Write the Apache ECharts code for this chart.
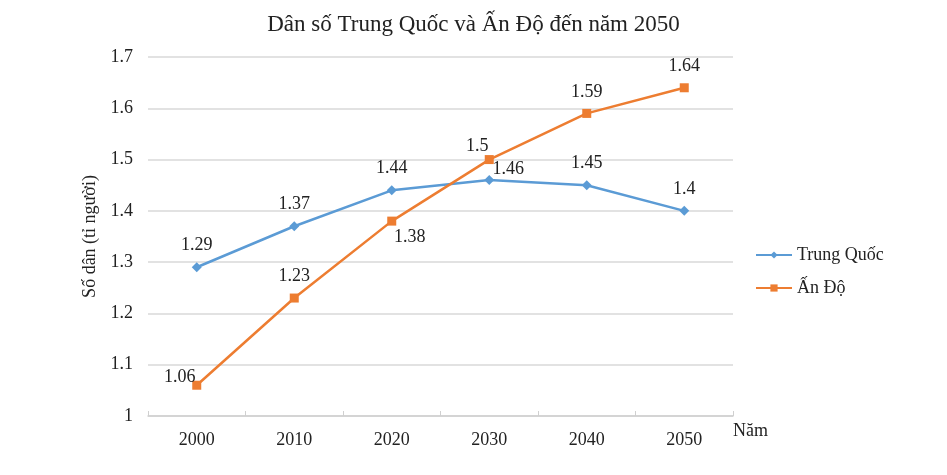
<!DOCTYPE html>
<html><head><meta charset="utf-8">
<script src="https://cdn.jsdelivr.net/npm/echarts@6/dist/echarts.min.js"></script>
<style>html,body{margin:0;padding:0;background:#fff}#c{width:947px;height:475px}</style>
</head><body><div id="c"></div>
<script>
var years = ['2000','2010','2020','2030','2040','2050'];
var trungQuoc = [1.29, 1.37, 1.44, 1.46, 1.45, 1.4];
var anDo = [1.06, 1.23, 1.38, 1.5, 1.59, 1.64];
var yTicks = [1, 1.1, 1.2, 1.3, 1.4, 1.5, 1.6, 1.7];

var FONT = '"Liberation Serif", "DejaVu Serif", serif';
var tqOffsets = {3: [19, -11]};
var adOffsets = {0: [-17, -8], 2: [18, 16], 3: [-12, -13]};

function mkData(vals, offs) {
  return vals.map(function (v, i) {
    if (offs[i]) return {value: v, label: {position: 'inside', offset: offs[i]}};
    return v;
  });
}

var chart = echarts.init(document.getElementById('c'));
chart.setOption({
  animation: false,
  textStyle: {fontFamily: FONT},
  title: {
    text: 'Dân số Trung Quốc và Ấn Độ đến năm 2050',
    left: 'center', top: 8,
    textStyle: {fontFamily: FONT, fontSize: 23, fontWeight: 'normal', color: '#222'}
  },
  grid: {left: 148, right: 214, top: 57, bottom: 59},
  legend: {
    orient: 'vertical', left: 750, top: 241, itemGap: 15,
    itemWidth: 36, itemHeight: 9,
    textStyle: {fontFamily: FONT, fontSize: 18, color: '#222'},
    data: ['Trung Quốc', 'Ấn Độ']
  },
  xAxis: {
    type: 'category', data: years, boundaryGap: true,
    name: 'Năm', nameLocation: 'end', nameGap: 0,
    nameTextStyle: {fontFamily: FONT, fontSize: 18, color: '#222', align: 'left', verticalAlign: 'top', padding: [6, 0, 0, 0]},
    axisLine: {lineStyle: {color: '#d0d0d0', width: 1.5}},
    axisTick: {show: true, inside: true, length: 5, lineStyle: {color: '#d0d0d0'}},
    axisLabel: {fontFamily: FONT, fontSize: 18, color: '#222', margin: 15}
  },
  yAxis: {
    type: 'value', min: yTicks[0], max: yTicks[yTicks.length - 1], interval: 0.1,
    name: 'Số dân (tỉ người)', nameLocation: 'middle', nameGap: 40, nameRotate: 90,
    nameTextStyle: {fontFamily: FONT, fontSize: 18, color: '#222'},
    axisLine: {show: false}, axisTick: {show: false},
    axisLabel: {fontFamily: FONT, fontSize: 18, color: '#222', margin: 15,
      formatter: function (v) { return String(Math.round(v * 10) / 10); }},
    splitLine: {lineStyle: {color: '#d9d9d9', width: 1.5}}
  },
  series: [
    {
      name: 'Trung Quốc', type: 'line', data: mkData(trungQuoc, tqOffsets),
      symbol: 'diamond', symbolSize: 10,
      itemStyle: {color: '#5b9bd5'}, lineStyle: {color: '#5b9bd5', width: 2.5},
      label: {show: true, position: 'top', distance: 8, fontFamily: FONT, fontSize: 18, color: '#222'}
    },
    {
      name: 'Ấn Độ', type: 'line', data: mkData(anDo, adOffsets),
      symbol: 'rect', symbolSize: 9,
      itemStyle: {color: '#ed7d31'}, lineStyle: {color: '#ed7d31', width: 2.5},
      label: {show: true, position: 'top', distance: 8, fontFamily: FONT, fontSize: 18, color: '#222'}
    }
  ]
});
</script></body></html>
